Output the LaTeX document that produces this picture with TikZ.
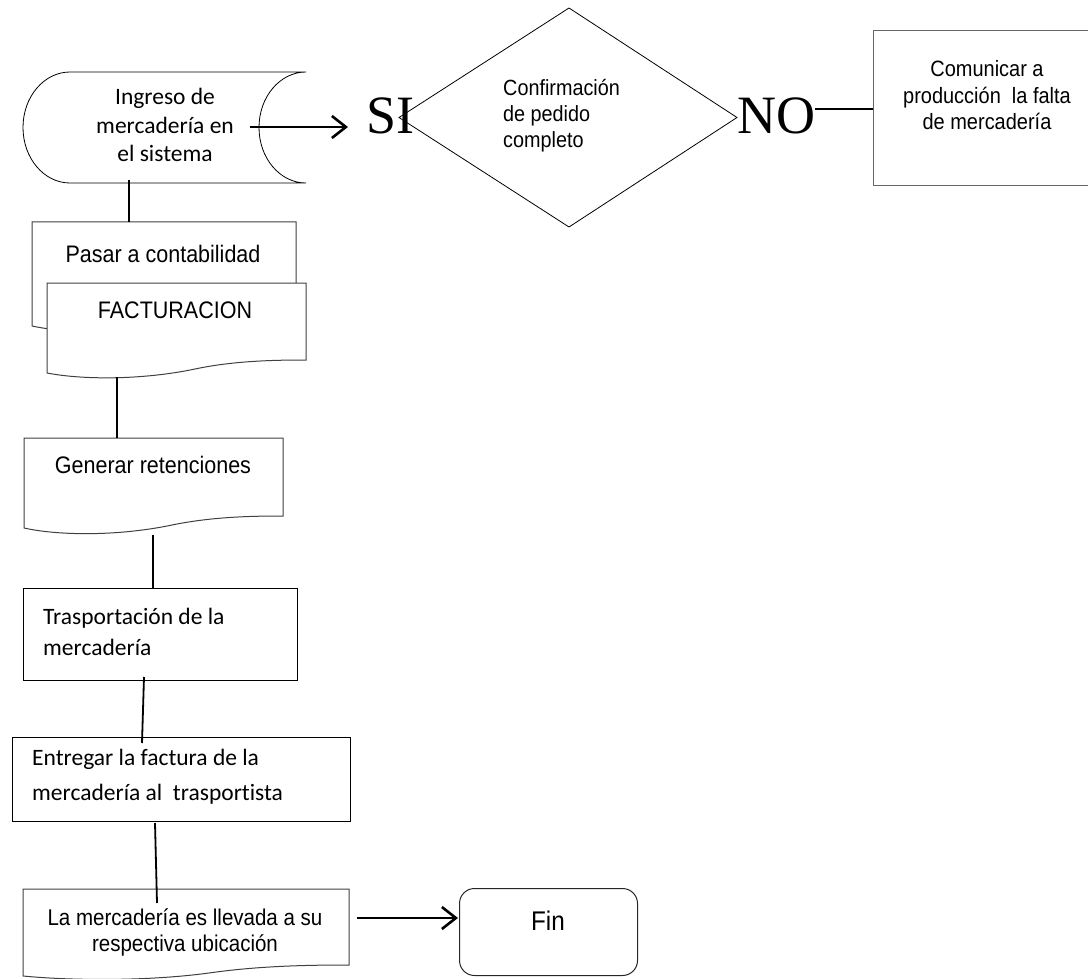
\documentclass[tikz,border=0pt]{standalone}
\usepackage{fontspec}
\setmainfont{Liberation Sans}
\newfontfamily\calibrif[Ligatures=NoCommon]{Carlito}
\newfontfamily\arialf[FakeStretch=0.9]{Liberation Sans}
\newfontfamily\timesf{Liberation Serif}
\usetikzlibrary{arrows.meta}
\tikzset{
  thinline/.style={draw=black, line width=0.8pt},
  docline/.style={draw=black!75, line width=1pt, fill=white},
  boxline/.style={draw=black, line width=1.2pt},
  conn/.style={draw=black, line width=1.8pt},
  arrowconn/.style={draw=black, line width=2.6pt, -{Straight Barb[length=14pt,width=22pt]}},
  txt/.style={inner sep=0pt, anchor=base, align=center},
  txtl/.style={inner sep=0pt, anchor=base west, align=left},
  cal/.style={font=\calibrif\fontsize{23.5}{#1}\selectfont},
}
\begin{document}
\begin{tikzpicture}[x=1pt,y=-1pt]
\useasboundingbox (0,0) rectangle (1088,979);
\clip (0,0) rectangle (1088,979);

% stored data: Ingreso
\path[thinline] (70,72) -- (306,72) .. controls (280,72) and (259,96.8) .. (259,127.5)
  .. controls (259,158.2) and (280,183) .. (306,183) -- (70,183)
  .. controls (44,183) and (23,158.2) .. (23,127.5) .. controls (23,96.8) and (44,72) .. cycle;
\node[txt, cal=28.5] (ingreso) at (165,162) {Ingreso de\\mercadería en\\el sistema};

% decision diamond
\coordinate (dT) at (569,8);
\coordinate (dR) at (737,117.5);
\coordinate (dB) at (569,227);
\coordinate (dL) at (399,117.5);
\path[thinline] (dT) -- (dR) -- (dB) -- (dL) -- cycle;
\node[txtl, font=\arialf\fontsize{22}{26}\selectfont] (conf) at (503,148) {Confirmación\\de pedido\\completo};

\node[inner sep=0pt, anchor=base west, font=\timesf\fontsize{54}{54}\selectfont] (si) at (366,134) {SI};
\node[inner sep=0pt, anchor=base west, font=\timesf\fontsize{54}{54}\selectfont] (no) at (737,134) {NO};

% Comunicar box
\node[draw=black!60, line width=1.4pt, inner sep=0pt, minimum width=217pt, minimum height=155pt, anchor=north west] (comunicar) at (873,30) {};
\node[txt, font=\arialf\fontsize{22.2}{26.5}\selectfont] (comt) at (987,130) {Comunicar a\\producción\ \ la falta\\de mercadería};

% Pasar a contabilidad (back document)
\path[docline] (32,222) -- (296,222) -- (296,314) .. controls (262,314) and (222,315) .. (183,323)
  .. controls (130,334) and (69,334) .. (32,326) -- cycle;
\node[txt, font=\arialf\fontsize{23.9}{26}\selectfont] (pasar) at (163,262) {Pasar a contabilidad};

% FACTURACION document
\path[docline] (47,283) -- (306,283) -- (306,360) .. controls (272,360) and (233,361) .. (195,369)
  .. controls (143,380) and (83,380) .. (47,373) -- cycle;
\node[txt, font=\arialf\fontsize{23.9}{26}\selectfont] (fact) at (175,318) {FACTURACION};

% Generar retenciones document
\path[docline] (24,438) -- (283,438) -- (283,516) .. controls (249,516) and (211,517) .. (172,525)
  .. controls (120,536) and (60,536) .. (24,528) -- cycle;
\node[txt, font=\arialf\fontsize{23.9}{26}\selectfont] (generar) at (153,473) {Generar retenciones};

% Trasportacion box
\node[boxline, inner sep=0pt, minimum width=274pt, minimum height=92pt, anchor=north west] (trasp) at (23,588) {};
\node[txtl, cal=31] (traspt) at (43,655) {Trasportación de la\\mercadería};

% Entregar box
\node[boxline, inner sep=0pt, minimum width=338pt, minimum height=84pt, anchor=north west] (entregar) at (12,737) {};
\node[txtl, cal=35] (entregart) at (32,800) {Entregar la factura de la\\mercadería al\ \ trasportista};

% La mercaderia document
\path[docline] (23,889) -- (349,889) -- (349,965) .. controls (306,965) and (258,966) .. (209,973)
  .. controls (150,981) and (75,981) .. (23,976) -- cycle;
\node[txt, font=\arialf\fontsize{22.8}{26}\selectfont] (llevada) at (185,951) {La mercadería es llevada a su\\respectiva ubicación};

% Fin
\node[draw=black!85, line width=1pt, rounded corners=15pt, inner sep=0pt, minimum width=178pt, minimum height=87pt, anchor=north west] (fin) at (459,888) {};
\node[txt, font=\arialf\fontsize{27}{30}\selectfont] (fint) at (548,930) {Fin};

% connectors
\coordinate (c1a) at (129,180); \coordinate (c1b) at (129,222);
\draw[conn] (c1a) -- (c1b);
\coordinate (c2a) at (117,377); \coordinate (c2b) at (117,438);
\draw[conn] (c2a) -- (c2b);
\coordinate (c3a) at (153,535); \coordinate (c3b) at (153,588);
\draw[conn] (c3a) -- (c3b);
\coordinate (c4a) at (144,677); \coordinate (c4b) at (142,743);
\draw[conn] (c4a) -- (c4b);
\coordinate (c5a) at (155,823); \coordinate (c5b) at (157,903);
\draw[conn] (c5a) -- (c5b);
\coordinate (a1a) at (250,127); \coordinate (a1b) at (348,127);
\draw[arrowconn] (a1a) -- (a1b);
\coordinate (a2a) at (357,918); \coordinate (a2b) at (458,918);
\draw[arrowconn] (a2a) -- (a2b);
\draw[conn, line width=1.4pt] (no.east |- 0,109) -- (comunicar.west |- 0,109);
\end{tikzpicture}
\end{document}
